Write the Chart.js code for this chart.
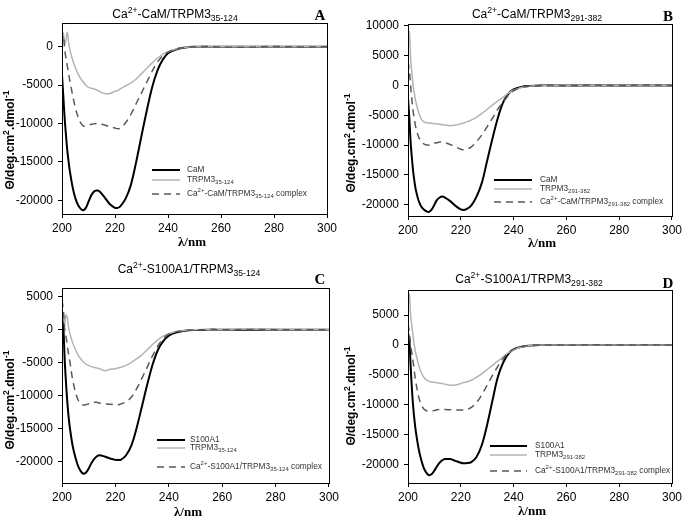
<!DOCTYPE html>
<html>
<head>
<meta charset="utf-8">
<script src="https://cdn.jsdelivr.net/npm/chart.js@4.4.0/dist/chart.umd.min.js"></script>
<style>
  body { margin: 0; background: #fff; width: 685px; height: 523px; position: relative; overflow: hidden; }
  canvas { position: absolute; }
</style>
</head>
<body>
<canvas id="chartA" width="342" height="258" style="left:0;top:0"></canvas>
<canvas id="chartB" width="343" height="258" style="left:342px;top:0"></canvas>
<canvas id="chartC" width="342" height="265" style="left:0;top:258px"></canvas>
<canvas id="chartD" width="343" height="265" style="left:342px;top:258px"></canvas>
<script>
// wavelengths (nm) shared by every spectrum
const wavelength = [200, 200.5, 201, 201.5, 202, 202.5, 203, 204, 205, 206, 207, 208, 209, 210, 211, 212, 213, 214,
  216, 218, 220, 221, 222, 224, 226, 228, 230, 232, 234, 236, 238, 240, 243, 246, 250, 255, 260, 270, 280, 290, 300];

const xTicks = [200, 220, 240, 260, 280, 300];
const yTicksA = [0, -5000, -10000, -15000, -20000];
const yTicksB = [10000, 5000, 0, -5000, -10000, -15000, -20000];
const yTicksCD = [5000, 0, -5000, -10000, -15000, -20000];

// Panel A: CaM / TRPM3 35-124
const camA = [-3700, -6500, -9300, -11500, -13500, -15000, -16300, -18300, -19700, -20600, -21100, -21300, -21000, -20200, -19400, -18900, -18750, -18800,
  -19600, -20500, -21000, -21000, -20800, -19800, -18000, -15000, -11600, -8300, -5300, -3100, -1700, -850, -350, -120, 0, 0, 0, 0, 0, 0, 0];
const trpmA = [1100, 1800, 300, 900, 1900, 600, -400, -1700, -2700, -3500, -4100, -4600, -5000, -5300, -5400, -5500, -5600, -5800,
  -6100, -6100, -5800, -5700, -5500, -5100, -4700, -4200, -3500, -2800, -2100, -1500, -1000, -650, -300, -100, 0, 0, 0, 0, 0, 0, 0];
const complexA = [500, 1500, -300, -1500, -2500, -3500, -4500, -6300, -7900, -9100, -9900, -10300, -10350, -10250, -10100, -10050, -10000, -10050,
  -10200, -10400, -10600, -10700, -10600, -9900, -8800, -7400, -6000, -4600, -3200, -2000, -1200, -700, -300, -100, 0, 30, -50, -60, 40, -30, 0];

// Panel B: CaM / TRPM3 291-382
const camB = [-2100, -5500, -9500, -12300, -14600, -16300, -17600, -19300, -20300, -20800, -21100, -21200, -20800, -20000, -19200, -18800, -18650, -18800,
  -19400, -20200, -20800, -20900, -20800, -20100, -18600, -16300, -12600, -8900, -5500, -2900, -1400, -650, -250, -100, 0, 0, 0, 0, 0, 0, 0];
const trpmB = [6000, 9000, 4500, 2000, -200, -1600, -2800, -4500, -5600, -6100, -6250, -6300, -6350, -6400, -6450, -6500, -6600, -6650,
  -6750, -6650, -6450, -6300, -6150, -5800, -5300, -4700, -4000, -3300, -2600, -2000, -1300, -800, -350, -120, 0, 0, 0, 0, 0, 0, 0];
const complexB = [4000, 2500, 0, -2500, -4500, -6000, -7100, -8600, -9400, -9800, -10000, -10000, -9900, -9700, -9600, -9500, -9500, -9600,
  -9900, -10300, -10700, -10800, -10750, -10300, -9400, -8300, -6900, -5500, -4000, -2800, -1700, -900, -350, -120, 0, 50, -40, 60, -30, 50, 0];

// Panel C: S100A1 / TRPM3 35-124
const s100C = [2200, 500, -4500, -8000, -11000, -13300, -15000, -17600, -19300, -20600, -21400, -21800, -21600, -21000, -20200, -19600, -19200, -19000,
  -19200, -19500, -19700, -19700, -19700, -19000, -17500, -14800, -11500, -8200, -5200, -3000, -1700, -900, -400, -150, -50, 0, 0, 0, 0, 0, 0];
const trpmC = [1500, 2500, 800, 2200, 1800, 200, -600, -2000, -3000, -3800, -4400, -4900, -5200, -5400, -5600, -5700, -5800, -5900,
  -6200, -6000, -5900, -5800, -5700, -5400, -4950, -4400, -3800, -3000, -2200, -1500, -950, -600, -250, -100, 0, 0, 0, 80, 0, 0, 0];
const complexC = [4500, 3000, 200, -1000, -2500, -3800, -5000, -7600, -9400, -10600, -11200, -11400, -11350, -11200, -11100, -11000, -11000, -11100,
  -11200, -11300, -11350, -11350, -11250, -10900, -10200, -8900, -7300, -5600, -3900, -2400, -1300, -700, -300, -120, -30, 0, -30, 20, 0, -20, 0];

// Panel D: S100A1 / TRPM3 291-382
const s100D = [2000, 800, -3500, -7500, -10500, -12800, -14600, -17300, -19200, -20600, -21400, -21800, -21600, -21000, -20300, -19700, -19300, -19100,
  -19100, -19400, -19700, -19800, -19800, -19600, -18700, -16700, -13300, -9300, -5400, -3000, -1500, -750, -300, -120, 0, 0, 0, 0, 0, 0, 0];
const trpmD = [7000, 8500, 5000, 3000, 1200, -300, -1500, -3300, -4600, -5400, -5850, -6100, -6200, -6250, -6300, -6400, -6450, -6550,
  -6750, -6700, -6450, -6300, -6200, -5900, -5400, -4800, -4100, -3400, -2700, -2000, -1300, -800, -350, -120, 0, 0, 0, 0, 0, 0, 0];
const complexD = [3500, 2000, 0, -1500, -3000, -4800, -6300, -8600, -10000, -10700, -11000, -11100, -11050, -10950, -10850, -10800, -10800, -10800,
  -10850, -10900, -10900, -10900, -10850, -10450, -9600, -8300, -6700, -5100, -3600, -2300, -1300, -700, -300, -100, -20, 0, -40, 30, -20, 20, 0];

const sans = '"Liberation Sans", Arial, sans-serif';
const serif = '"Liberation Serif", "Times New Roman", serif';

// draw text with super (1) / sub (-1) parts
function richWidth(ctx, parts, size, weight) {
  let w = 0;
  parts.forEach(p => {
    const s = p[1] ? size * 0.72 : size;
    ctx.font = weight + ' ' + s + 'px ' + sans;
    w += ctx.measureText(p[0]).width;
  });
  return w;
}
function drawRich(ctx, parts, x, y, size, align, weight) {
  weight = weight || 'normal';
  let cx = x;
  if (align === 'center') cx = x - richWidth(ctx, parts, size, weight) / 2;
  ctx.textAlign = 'left';
  ctx.textBaseline = 'middle';
  parts.forEach(p => {
    const s = p[1] ? size * 0.72 : size;
    ctx.font = weight + ' ' + s + 'px ' + sans;
    const dy = p[1] === 1 ? -size * 0.38 : p[1] === -1 ? size * 0.3 : 0;
    ctx.fillText(p[0], cx, y + dy);
    cx += ctx.measureText(p[0]).width;
  });
}

const yTitle = [['Θ/deg.cm', 0], ['2', 1], ['.dmol', 0], ['-1', 1]];

const panelDecor = {
  id: 'panelDecor',
  afterDraw(chart, args, o) {
    const ctx = chart.ctx;
    const a = chart.chartArea;
    ctx.save();
    ctx.fillStyle = '#000';
    ctx.strokeStyle = '#000';
    ctx.lineWidth = 1;
    ctx.strokeRect(Math.round(a.left) + 0.5, Math.round(a.top) + 0.5, Math.round(a.right - a.left), Math.round(a.bottom - a.top));

    drawRich(ctx, o.title, o.titleX, o.titleY, 12, 'center');

    ctx.font = 'bold 15px ' + serif;
    ctx.textAlign = 'center';
    ctx.textBaseline = 'middle';
    ctx.fillText(o.letter, o.letterX, o.letterY);

    ctx.font = 'bold 13px ' + serif;
    ctx.fillText('λ/nm', o.xTitleX, o.xTitleY);

    ctx.save();
    ctx.translate(o.yTitleX, o.yTitleY);
    ctx.rotate(-Math.PI / 2);
    drawRich(ctx, yTitle, 0, 0, 12, 'center', 'bold');
    ctx.restore();

    // legend
    const lg = o.legend;
    const styles = [
      { c: '#000', w: 2, d: [] },
      { c: '#b4b4b4', w: 1.5, d: [] },
      { c: '#5a5a5a', w: 1.5, d: [7, 5] }
    ];
    lg.rows.forEach((y, i) => {
      ctx.beginPath();
      ctx.strokeStyle = styles[i].c;
      ctx.lineWidth = styles[i].w;
      ctx.setLineDash(styles[i].d);
      ctx.moveTo(lg.x0, y);
      ctx.lineTo(lg.x1, y);
      ctx.stroke();
      ctx.setLineDash([]);
      ctx.fillStyle = '#333';
      drawRich(ctx, lg.labels[i], lg.tx, y, 8.3, 'left');
    });
    ctx.restore();
  }
};

function makePanel(id, series, yMin, yMax, yTicks, geo, decor) {
  const canvas = document.getElementById(id);
  const pts = arr => arr.map((v, i) => ({ x: wavelength[i], y: v }));
  new Chart(canvas.getContext('2d'), {
    type: 'line',
    data: {
      datasets: [
        { data: pts(series[2]), borderColor: '#5a5a5a', borderWidth: 1.5, borderDash: [7, 5] },
        { data: pts(series[1]), borderColor: '#b4b4b4', borderWidth: 1.5 },
        { data: pts(series[0]), borderColor: '#000', borderWidth: 2 }
      ]
    },
    options: {
      responsive: false,
      animation: false,
      events: [],
      elements: { point: { radius: 0 }, line: { tension: 0.35 } },
      layout: { padding: { left: 0, top: geo.top, right: canvas.width - geo.right, bottom: 0 } },
      plugins: { legend: { display: false }, tooltip: { enabled: false }, panelDecor: decor },
      scales: {
        x: {
          type: 'linear', min: 200, max: 300,
          afterBuildTicks: s => { s.ticks = xTicks.map(v => ({ value: v })); },
          afterFit: s => { s.height = canvas.height - geo.bottom; },
          grid: { drawOnChartArea: false, drawTicks: true, tickLength: 4, color: '#000' },
          border: { display: true, color: '#000' },
          ticks: { color: '#000', font: { family: sans, size: 12 }, padding: 3, maxRotation: 0, callback: v => String(v) }
        },
        y: {
          type: 'linear', min: yMin, max: yMax,
          afterBuildTicks: s => { s.ticks = yTicks.map(v => ({ value: v })); },
          afterFit: s => { s.width = geo.left; },
          grid: { drawOnChartArea: false, drawTicks: true, tickLength: 4, color: '#000' },
          border: { display: true, color: '#000' },
          ticks: { color: '#000', font: { family: sans, size: 12 }, padding: 5, callback: v => String(v) }
        }
      }
    },
    plugins: [panelDecor]
  });
}

const lab35 = ['35-124', -1];
const lab291 = ['291-382', -1];

makePanel('chartA', [camA, trpmA, complexA], -21800, 3100, yTicksA,
  { left: 62, right: 327, top: 23, bottom: 214 },
  {
    title: [['Ca', 0], ['2+', 1], ['-CaM/TRPM3', 0], lab35], titleX: 175, titleY: 15,
    letter: 'A', letterX: 320, letterY: 16, xTitleX: 192, xTitleY: 243, yTitleX: 11, yTitleY: 140,
    legend: { x0: 152, x1: 180, tx: 187, rows: [170, 180, 194],
      labels: [[['CaM', 0]], [['TRPM3', 0], lab35], [['Ca', 0], ['2+', 1], ['-CaM/TRPM3', 0], lab35, [' complex', 0]]] }
  });

makePanel('chartB', [camB, trpmB, complexB], -21900, 10300, yTicksB,
  { left: 66, right: 332, top: 24, bottom: 216 },
  {
    title: [['Ca', 0], ['2+', 1], ['-CaM/TRPM3', 0], lab291], titleX: 195, titleY: 15,
    letter: 'B', letterX: 326, letterY: 17, xTitleX: 200, xTitleY: 244, yTitleX: 10, yTitleY: 143,
    legend: { x0: 152, x1: 190, tx: 198, rows: [180, 189, 202],
      labels: [[['CaM', 0]], [['TRPM3', 0], lab291], [['Ca', 0], ['2+', 1], ['-CaM/TRPM3', 0], lab291, [' complex', 0]]] }
  });

makePanel('chartC', [s100C, trpmC, complexC], -23200, 6300, yTicksCD,
  { left: 62, right: 329, top: 30, bottom: 225 },
  {
    title: [['Ca', 0], ['2+', 1], ['-S100A1/TRPM3', 0], lab35], titleX: 189, titleY: 12,
    letter: 'C', letterX: 320, letterY: 22, xTitleX: 188, xTitleY: 255, yTitleX: 11, yTitleY: 142,
    legend: { x0: 157, x1: 185, tx: 190, rows: [182, 190, 209],
      labels: [[['S100A1', 0]], [['TRPM3', 0], lab35], [['Ca', 0], ['2+', 1], ['-S100A1/TRPM3', 0], lab35, [' complex', 0]]] }
  });

makePanel('chartD', [s100D, trpmD, complexD], -23100, 9200, yTicksCD,
  { left: 66, right: 333, top: 32, bottom: 225 },
  {
    title: [['Ca', 0], ['2+', 1], ['-S100A1/TRPM3', 0], lab291], titleX: 187, titleY: 22,
    letter: 'D', letterX: 326, letterY: 26, xTitleX: 190, xTitleY: 254, yTitleX: 10, yTitleY: 138,
    legend: { x0: 148, x1: 185, tx: 193, rows: [188, 197, 213],
      labels: [[['S100A1', 0]], [['TRPM3', 0], lab291], [['Ca', 0], ['2+', 1], ['-S100A1/TRPM3', 0], lab291, [' complex', 0]]] }
  });
</script>
</body>
</html>
